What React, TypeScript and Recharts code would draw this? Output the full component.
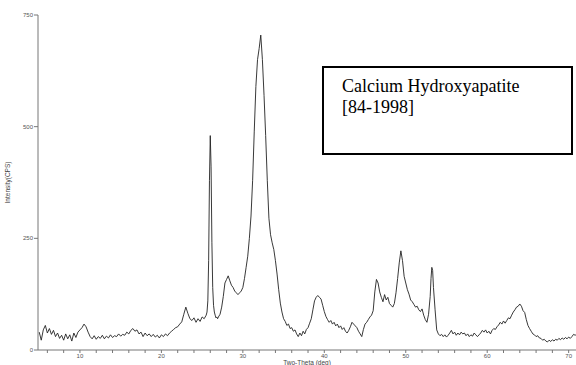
import React from 'react';
import { LineChart, Line, XAxis, YAxis } from 'recharts';

const twoTheta = [
  5, 5.25, 5.5, 5.75, 6, 6.25, 6.5, 6.75, 7, 7.25,
  7.5, 7.75, 8, 8.25, 8.5, 8.75, 9, 9.25, 9.5, 9.75,
  10, 10.25, 10.5, 10.75, 11, 11.25, 11.5, 11.75, 12, 12.25,
  12.5, 12.75, 13, 13.25, 13.5, 13.75, 14, 14.25, 14.5, 14.75,
  15, 15.25, 15.5, 15.75, 16, 16.25, 16.5, 16.75, 17, 17.25,
  17.5, 17.75, 18, 18.25, 18.5, 18.75, 19, 19.25, 19.5, 19.75,
  20, 20.25, 20.5, 20.75, 21, 21.25, 21.5, 21.75, 22, 22.25,
  22.5, 22.75, 23, 23.25, 23.5, 23.75, 24, 24.25, 24.5, 24.75,
  25, 25.25, 25.5, 25.6, 25.7, 25.8, 25.9, 26, 26.1, 26.2,
  26.3, 26.4, 26.5, 26.6, 26.7, 26.8, 26.9, 27, 27.2, 27.4,
  27.6, 27.8, 28, 28.2, 28.4, 28.6, 28.8, 29, 29.2, 29.4,
  29.6, 29.8, 30, 30.2, 30.4, 30.6, 30.8, 31, 31.2, 31.4,
  31.6, 31.8, 32, 32.2, 32.4, 32.6, 32.8, 33, 33.2, 33.4,
  33.6, 33.8, 34, 34.2, 34.4, 34.6, 34.8, 35, 35.2, 35.4,
  35.6, 35.8, 36, 36.2, 36.4, 36.6, 36.8, 37, 37.2, 37.4,
  37.6, 37.8, 38, 38.2, 38.4, 38.6, 38.8, 39, 39.2, 39.4,
  39.6, 39.8, 40, 40.2, 40.4, 40.6, 40.8, 41, 41.2, 41.4,
  41.6, 41.8, 42, 42.2, 42.4, 42.6, 42.8, 43, 43.2, 43.4,
  43.6, 43.8, 44, 44.2, 44.4, 44.6, 44.8, 45, 45.2, 45.4,
  45.6, 45.8, 46, 46.2, 46.4, 46.6, 46.8, 47, 47.2, 47.4,
  47.6, 47.8, 48, 48.2, 48.4, 48.6, 48.8, 49, 49.2, 49.4,
  49.6, 49.8, 50, 50.2, 50.4, 50.6, 50.8, 51, 51.2, 51.4,
  51.6, 51.8, 52, 52.2, 52.4, 52.6, 52.8, 53, 53.1, 53.2,
  53.3, 53.4, 53.6, 53.8, 54, 54.2, 54.4, 54.6, 54.8, 55,
  55.2, 55.4, 55.6, 55.8, 56, 56.2, 56.4, 56.6, 56.8, 57,
  57.2, 57.4, 57.6, 57.8, 58, 58.2, 58.4, 58.6, 58.8, 59,
  59.2, 59.4, 59.6, 59.8, 60, 60.2, 60.4, 60.6, 60.8, 61,
  61.2, 61.4, 61.6, 61.8, 62, 62.2, 62.4, 62.6, 62.8, 63,
  63.2, 63.4, 63.6, 63.8, 64, 64.2, 64.4, 64.6, 64.8, 65,
  65.2, 65.4, 65.6, 65.8, 66, 66.2, 66.4, 66.6, 66.8, 67,
  67.2, 67.4, 67.6, 67.8, 68, 68.2, 68.4, 68.6, 68.8, 69,
  69.2, 69.4, 69.6, 69.8, 70, 70.2, 70.4, 70.6, 70.8, 71,
];

const intensity = [
  40, 22, 45, 55, 38, 48, 35, 44, 30, 38,
  26, 33, 22, 36, 25, 34, 20, 38, 28, 40,
  45, 50, 58, 52, 40, 30, 25, 32, 24, 30,
  26, 33, 25, 31, 27, 34, 28, 32, 30, 36,
  31, 35, 33, 40, 36, 44, 48, 42, 45, 36,
  40, 30, 38, 32, 36, 30, 35, 29, 33, 27,
  34, 30, 36, 32, 38, 42, 46, 50, 52, 58,
  63, 80, 96, 82, 70, 66, 72, 62, 70, 64,
  74, 70, 78, 85, 110, 200, 380, 480, 410, 240,
  140, 100, 85, 78, 72, 74, 70, 74, 80, 96,
  120, 150, 158, 166, 155, 145, 140, 132, 128, 124,
  128, 132, 140, 160, 185, 210, 250, 300, 380, 490,
  590, 650, 675, 705, 650, 570, 480, 380, 295, 258,
  240, 225, 200, 170, 135, 105, 85, 70, 64, 55,
  58, 48, 50, 42, 45, 36, 30, 38, 32, 42,
  36, 46, 50, 60, 70, 90, 110, 118, 122, 118,
  114, 100, 86, 75, 68, 62, 66, 58, 62, 54,
  58, 50, 54, 46, 50, 42, 38, 44, 52, 62,
  58, 54, 50, 42, 36, 30, 46, 58, 62, 68,
  74, 78, 88, 130, 158, 150, 130, 118, 108, 124,
  112, 118, 104, 100, 96, 104, 128, 160, 195, 222,
  200, 165, 150, 135, 125, 112, 108, 102, 96, 98,
  90, 86, 92, 78, 68, 62, 80, 120, 160, 185,
  178, 140, 90, 45, 36, 32, 35, 30, 34, 29,
  33, 38, 44, 36, 40, 33, 38, 34, 40, 36,
  38, 32, 36, 30, 34, 31, 38, 34, 30, 34,
  38, 44, 40, 45, 38, 42, 36, 44, 48, 46,
  52, 56, 62, 58, 65, 60, 66, 72, 70, 78,
  85, 90, 96, 98, 103, 98, 88, 84, 68, 55,
  48, 42, 36, 34, 30, 32, 27, 26, 22, 24,
  20, 18, 22, 19, 23, 20, 24, 22, 26, 23,
  27, 24, 28, 25, 29, 26, 30, 35, 33, 36,
];

const xTicks = [6, 8, 10, 12, 14, 16, 18, 20, 22, 24, 26, 28, 30, 32, 34, 36, 38, 40, 42, 44, 46, 48, 50, 52, 54, 56, 58, 60, 62, 64, 66, 68, 70];
const yTicks = [0, 250, 500, 750];
const annotationLines = ['Calcium Hydroxyapatite', '[84-1998]'];

const data = twoTheta.map((t, i) => ({ t, v: intensity[i] }));

const axisColor = '#777';
const tickStyle = { fontSize: 6, fill: '#555', fontFamily: 'Liberation Sans, Arial, sans-serif' };

export default function App() {
  return (
    <div style={{ position: 'absolute', left: 0, top: 0, width: 576, height: 365, background: '#fff' }}>
      <LineChart width={576} height={365} data={data} margin={{ top: 15, right: 0, bottom: 0, left: 0 }}>
        <XAxis
          dataKey="t"
          type="number"
          domain={[4.85, 70.9]}
          allowDataOverflow
          ticks={xTicks}
          interval={0}
          tickFormatter={(v: number) => (v % 10 === 0 ? String(v) : '')}
          height={15}
          tickSize={3}
          tickMargin={1}
          stroke={axisColor}
          tick={tickStyle}
          label={{ value: 'Two-Theta (deg)', position: 'insideBottom', offset: 0, style: { fontSize: 6.5, fill: '#444', fontFamily: 'Liberation Sans, Arial, sans-serif' } }}
        />
        <YAxis
          type="number"
          domain={[0, 750]}
          ticks={yTicks}
          interval={0}
          width={38}
          tickSize={4}
          tickMargin={1}
          stroke={axisColor}
          tick={tickStyle}
          label={{ value: 'Intensity(CPS)', angle: -90, position: 'insideLeft', offset: 8, style: { textAnchor: 'middle', fontSize: 6.5, fill: '#444', fontFamily: 'Liberation Sans, Arial, sans-serif' } }}
        />
        <Line type="linear" dataKey="v" stroke="#222" strokeWidth={0.9} dot={false} isAnimationActive={false} />
      </LineChart>
      <div
        style={{
          position: 'absolute',
          left: 322,
          top: 66,
          width: 229,
          height: 77,
          border: '2px solid #000',
          background: '#fff',
          fontFamily: '"Liberation Serif", "Times New Roman", serif',
          fontSize: 18,
          lineHeight: '21px',
          color: '#000',
          paddingLeft: 18,
          paddingTop: 8,
          boxSizing: 'content-box',
        }}
      >
        {annotationLines.map((l) => (
          <div key={l}>{l}</div>
        ))}
      </div>
    </div>
  );
}
